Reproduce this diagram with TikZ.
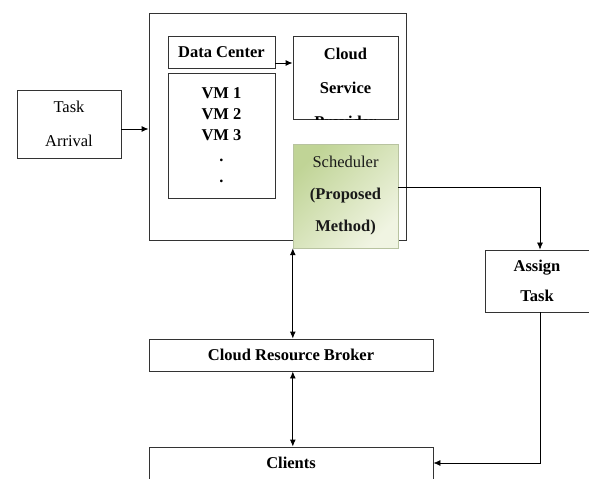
\documentclass[tikz,border=0pt]{standalone}
\usepackage{fontspec}
\setmainfont{Liberation Serif}
\usepackage{xcolor}
\usetikzlibrary{arrows.meta}

\definecolor{schedDark}{RGB}{192,212,150}
\definecolor{schedLight}{RGB}{240,244,226}

\begin{document}
\begin{tikzpicture}[x=1pt, y=-1pt, >={Latex[length=7pt,width=6pt]},
    box/.style={draw, line width=0.9pt, black!80, text=black, align=center, inner sep=0pt},
    boldtxt/.style={font=\fontsize{16.5}{21}\selectfont\bfseries},
    plaintxt/.style={font=\fontsize{16.5}{34}\selectfont}]
        % Rama obrazka
        \clip (0,0) rectangle (589,479);

        % Centrum danych (ramka zewnetrzna)
        \node[box, minimum width=257, minimum height=227] (outer) at (277.5,126.5) {};

        % Napływ zadań
        \node[box, plaintxt, minimum width=104, minimum height=68] (arrival) at (69,124) {Task\\Arrival};

        % Bloki wewnątrz
        \node[box, boldtxt, minimum width=107, minimum height=32] (datacenter) at (221.5,52) {Data Center};
        \node[box, boldtxt, minimum width=107, minimum height=125] (vms) at (221.5,135.5) {VM 1\\VM 2\\VM 3\\.\\.};
        \node[box, minimum width=105, minimum height=83] (service) at (345.5,77.5) {};
        \begin{scope}
            \clip (service.south west) rectangle (service.north east);
            \node[font=\fontsize{16.5}{34}\selectfont\bfseries, align=center, anchor=north] (servicetxt) at (345.5,45) {Cloud\\Service\\Provider};
        \end{scope}

        % Planista (metoda proponowana)
        \node[box, draw=schedDark!80!black!70, thin, top color=schedDark, bottom color=schedLight, shading angle=45,
              minimum width=105, minimum height=104, text=black!90, font=\fontsize{16.5}{32}\selectfont] (scheduler) at (345.5,196)
              {Scheduler\\\textbf{(Proposed}\\\textbf{Method)}};

        % Pozostałe bloki
        \node[box, minimum width=104, minimum height=62, font=\fontsize{16.5}{30}\selectfont\bfseries] (assign) at (537,281) {Assign\\Task};
        \node[box, boldtxt, minimum width=284, minimum height=32] (broker) at (291,355) {Cloud Resource Broker};
        \node[box, boldtxt, minimum width=284, minimum height=32] (clients) at (291,463) {Clients};

        % Połączenia
        \draw[->, line width=0.9pt] ([yshift=-5pt]arrival.east) -- ([yshift=-5pt]arrival.east -| outer.west);
        \draw[->, line width=0.9pt] ([yshift=-11pt]datacenter.east) -- ([yshift=-11pt]datacenter.east -| service.west);
        \draw[->, line width=0.7pt] ([yshift=9pt]scheduler.east) -| ([xshift=3pt]assign.north);
        \draw[->, line width=0.7pt] ([xshift=3pt]assign.south) |- (clients.east);
        \draw[<->, line width=0.9pt] (scheduler.south west) -- (scheduler.south west |- broker.north);
        \draw[<->, line width=0.9pt] (broker.south -| scheduler.west) -- (clients.north -| scheduler.west);
\end{tikzpicture}
\end{document}
